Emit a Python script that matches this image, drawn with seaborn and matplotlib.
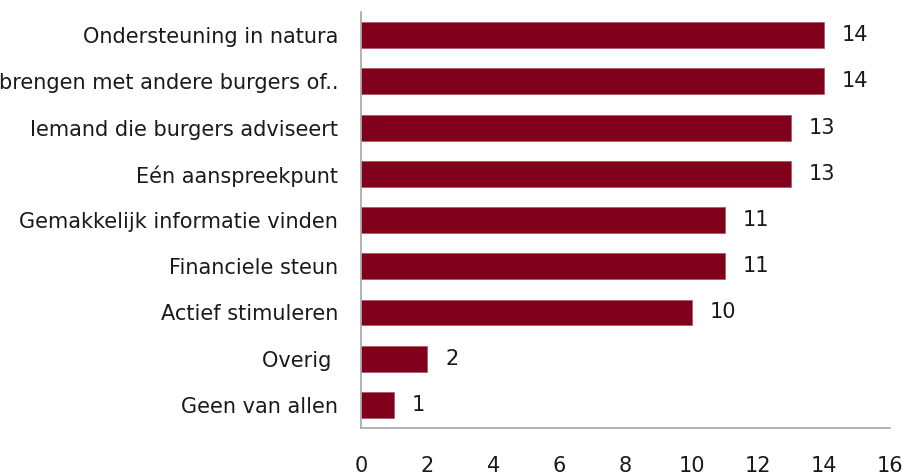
import pandas as pd
import matplotlib
matplotlib.use("Agg")
import matplotlib.pyplot as plt
import seaborn as sns

# chart data
categories = [
    "Ondersteuning in natura",
    "brengen met andere burgers of..",
    "Iemand die burgers adviseert",
    "Eén aanspreekpunt",
    "Gemakkelijk informatie vinden",
    "Financiele steun",
    "Actief stimuleren",
    "Overig ",
    "Geen van allen",
]
values = [14, 14, 13, 13, 11, 11, 10, 2, 1]
x_ticks = [0, 2, 4, 6, 8, 10, 12, 14, 16]

BAR_COLOR = "#80001c"
AXIS_COLOR = "#a6a6a6"
TEXT_COLOR = "#1a1a1a"
FS = 15

sns.set_theme(style="white")
plt.rcParams["font.family"] = ["DejaVu Sans"]

df = pd.DataFrame({"category": categories, "value": values})

fig = plt.figure(figsize=(9.04, 4.75), dpi=100)
ax = fig.add_axes([0.3993, 0.0989, 0.9845 - 0.3993, 0.9747 - 0.0989])

sns.barplot(data=df, y="category", x="value", orient="h", color=BAR_COLOR,
            saturation=1, width=0.56, edgecolor="#b05a6a", linewidth=0.6, ax=ax)

ax.bar_label(ax.containers[0], labels=[str(v) for v in values],
             padding=13, fontsize=FS, color=TEXT_COLOR)

ax.set_xlim(0, 16)
ax.set_ylim(8.5, -0.5)
ax.set_xticks(x_ticks)
ax.set_xticklabels([str(t) for t in x_ticks])
ax.set_xlabel("")
ax.set_ylabel("")

ax.tick_params(axis="x", length=0, pad=20, labelsize=FS, labelcolor=TEXT_COLOR)
ax.tick_params(axis="y", length=0, pad=16.5, labelsize=FS, labelcolor=TEXT_COLOR)

sns.despine(ax=ax, top=True, right=True)
for side in ["left", "bottom"]:
    ax.spines[side].set_color(AXIS_COLOR)
    ax.spines[side].set_linewidth(1.2)

fig.savefig("out.png", dpi=100)
